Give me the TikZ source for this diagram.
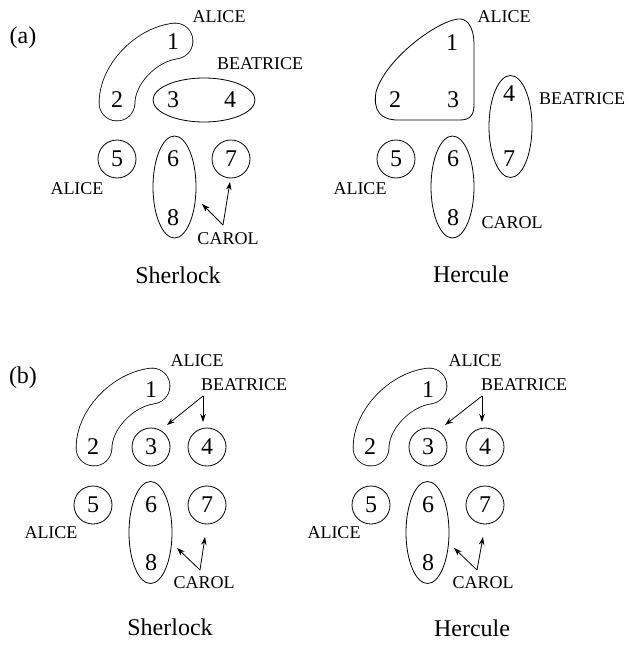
\documentclass[tikz,border=0pt]{standalone}
\usepackage{fontspec}
\setmainfont{Liberation Serif}
\usetikzlibrary{arrows.meta,shapes.geometric}
\begin{document}
\begin{tikzpicture}[x=1pt,y=-1pt,
  dig/.style={font=\fontsize{24}{24}\selectfont, inner sep=0pt},
  lab/.style={font=\fontsize{18}{18}\selectfont, inner sep=0pt},
  ttl/.style={font=\fontsize{24}{24}\selectfont, inner sep=0pt},
  circ/.style={dig, draw, circle, minimum size=38pt, line width=0.8pt},
  ellv/.style={draw, ellipse, minimum width=43pt, minimum height=102pt, line width=0.8pt, inner sep=0pt},
  ellh/.style={draw, ellipse, minimum width=102pt, minimum height=44pt, line width=0.8pt, inner sep=0pt},
  bean/.style={double, double distance=35pt, line width=0.8pt, line cap=round},
  blob/.style={line width=0.8pt},
  arr/.style={-{Stealth[length=8pt,width=5.5pt]}, line width=0.8pt},
]
\useasboundingbox (0,0) rectangle (628,645);

% ---------------- (a) Sherlock ----------------
\node[ttl] (a-tag) at (23,38) {(a)};
\draw[bean] (117,103) .. controls (117,75) and (145,45) .. (175,41);
\node[ellh] (as-e34) at (204,100) {};
\node[ellv] (as-e68) at (174.5,187) {};
\node[circ] (as-c5) at (117,159) {5};
\node[circ] (as-c7) at (231,159) {7};
\node[dig] (as-1) at (173,42) {1};
\node[dig] (as-2) at (117,100) {2};
\node[dig] (as-3) at (173,100) {3};
\node[dig] (as-4) at (230,100) {4};
\node[dig] (as-6) at (173,159) {6};
\node[dig] (as-8) at (173,218) {8};
\node[lab] (as-alice1) at (219,17) {ALICE};
\node[lab] (as-beat) at (260,64) {BEATRICE};
\node[lab] (as-alice2) at (77,189) {ALICE};
\node[lab] (as-carol) at (228,239) {CAROL};
\coordinate (as-ap) at (223,225);
\coordinate (as-t8) at (202,204);
\coordinate (as-t7) at (230,182);
\draw[arr] (as-ap) -- (as-t8);
\draw[arr] (as-ap) -- (as-t7);
\node[ttl] (as-name) at (178,275) {Sherlock};

% ---------------- (a) Hercule ----------------
\draw[blob] (474,105) -- (474,45) .. controls (474,25) and (466,18) .. (458,19)
  .. controls (435,22) and (385,60) .. (376,92)
  .. controls (373,110) and (380,120) .. (398,120) -- (460,120)
  .. controls (470,120) and (474,115) .. (474,105) -- cycle;
\node[ellv] (ah-e47) at (510.5,126.5) {};
\node[ellv] (ah-e68) at (452.5,187) {};
\node[circ] (ah-c5) at (396,159) {5};
\node[dig] (ah-1) at (452,43) {1};
\node[dig] (ah-2) at (395,100) {2};
\node[dig] (ah-3) at (453,100) {3};
\node[dig] (ah-4) at (509,94) {4};
\node[dig] (ah-7) at (509,159) {7};
\node[dig] (ah-6) at (453,159) {6};
\node[dig] (ah-8) at (453,218) {8};
\node[lab] (ah-alice1) at (504,17) {ALICE};
\node[lab] (ah-beat) at (582,99) {BEATRICE};
\node[lab] (ah-alice2) at (360,189) {ALICE};
\node[lab] (ah-carol) at (512,223) {CAROL};
\node[ttl] (ah-name) at (471,274) {Hercule};

% ---------------- (b) Sherlock ----------------
\node[ttl] (b-tag) at (23,378) {(b)};
\begin{scope}[name prefix=bs-]
\draw[bean] (94,448) .. controls (94,420) and (122,390) .. (152,386);
\node[ellv] (e68) at (150.5,532.5) {};
\node[circ] (c3) at (151,447) {3};
\node[circ] (c4) at (207,447) {4};
\node[circ] (c5) at (93,505) {5};
\node[circ] (c7) at (207,505) {7};
\node[dig] (d1) at (151,390) {1};
\node[dig] (d2) at (93,447) {2};
\node[dig] (d6) at (151,505) {6};
\node[dig] (d8) at (151,563) {8};
\coordinate (bap) at (203,396);
\coordinate (t3) at (167,425);
\coordinate (t4) at (203,422);
\draw[arr] (bap) -- (t3);
\draw[arr] (bap) -- (t4);
\coordinate (cap) at (200,570);
\coordinate (t8) at (177,548);
\coordinate (t7) at (205,537);
\draw[arr] (cap) -- (t8);
\draw[arr] (cap) -- (t7);
\end{scope}
\node[lab] (bs-alice1) at (197,361) {ALICE};
\node[lab] (bs-beat) at (244,385) {BEATRICE};
\node[lab] (bs-alice2) at (51,533) {ALICE};
\node[lab] (bs-carol) at (204,583) {CAROL};
\node[ttl] (bs-name) at (170,627) {Sherlock};

% ---------------- (b) Hercule ----------------
\begin{scope}[xshift=277pt, name prefix=bh-]
\draw[bean] (94,448) .. controls (94,420) and (122,390) .. (152,386);
\node[ellv] (e68) at (150.5,532.5) {};
\node[circ] (c3) at (151,447) {3};
\node[circ] (c4) at (208,447) {4};
\node[circ] (c5) at (94,505) {5};
\node[circ] (c7) at (208,505) {7};
\node[dig] (d1) at (151,390) {1};
\node[dig] (d2) at (93,447) {2};
\node[dig] (d6) at (151,505) {6};
\node[dig] (d8) at (151,563) {8};
\coordinate (bap) at (205,396);
\coordinate (t3) at (168,425);
\coordinate (t4) at (205,422);
\draw[arr] (bap) -- (t3);
\draw[arr] (bap) -- (t4);
\coordinate (cap) at (200,570);
\coordinate (t8) at (177,548);
\coordinate (t7) at (206,537);
\draw[arr] (cap) -- (t8);
\draw[arr] (cap) -- (t7);
\end{scope}
\node[lab] (bh-alice1) at (475,361) {ALICE};
\node[lab] (bh-beat) at (524,385) {BEATRICE};
\node[lab] (bh-alice2) at (334,533) {ALICE};
\node[lab] (bh-carol) at (483,583) {CAROL};
\node[ttl] (bh-name) at (472,628) {Hercule};
\end{tikzpicture}
\end{document}
